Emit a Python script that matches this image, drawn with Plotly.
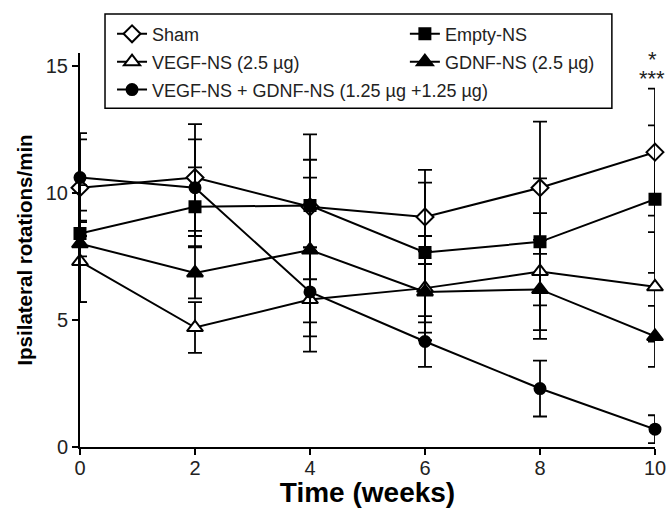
import plotly.graph_objects as go

weeks = [0, 2, 4, 6, 8, 10]

sham = [10.2, 10.6, 9.45, 9.05, 10.2, 11.6]
sham_err = [1.9, 2.1, 2.85, 1.85, 2.6, 2.5]

empty = [8.4, 9.45, 9.5, 7.65, 8.07, 9.75]
empty_err = [0.9, 1.55, 1.8, 2.75, 2.5, 2.9]

vegf = [7.3, 4.7, 5.8, 6.25, 6.9, 6.3]
vegf_err = [1.6, 1.0, 2.05, 2.05, 2.3, 2.15]

gdnf = [8.0, 6.85, 7.75, 6.1, 6.2, 4.35]
gdnf_err = [2.3, 1.0, 2.85, 1.6, 1.95, 1.2]

combo = [10.6, 10.2, 6.1, 4.15, 2.3, 0.7]
combo_err = [1.75, 1.9, 1.75, 1.0, 1.1, 0.55]

series = [
    ("Sham", sham, sham_err, "diamond", "white", 13, "legend"),
    ("Empty-NS", empty, empty_err, "square", "black", 11, "legend2"),
    ("VEGF-NS (2.5 µg)", vegf, vegf_err, "triangle-up", "white", 14, "legend"),
    ("GDNF-NS (2.5 µg)", gdnf, gdnf_err, "triangle-up", "black", 14, "legend2"),
    ("VEGF-NS + GDNF-NS (1.25 µg +1.25 µg)", combo, combo_err, "circle", "black", 11, "legend"),
]

sig_labels = ["*", "***"]
sig_y = [15.25, 14.5]

FONT = "Arial, Liberation Sans, sans-serif"

fig = go.Figure()
for i, (name, y, e, sym, fill, size, leg) in enumerate(series):
    fig.add_trace(go.Scatter(
        x=weeks, y=y, name=name, mode="lines+markers",
        legend=leg, legendgroup="g%d" % i,
        line=dict(color="black", width=2),
        marker=dict(symbol=sym, color=fill, size=size,
                    line=dict(color="black", width=2)),
        error_y=dict(type="data", array=e, visible=True,
                     color="black", thickness=1.8, width=7),
        cliponaxis=False,
    ))

for lab, yy in zip(sig_labels, sig_y):
    fig.add_annotation(x=10, y=yy, xref="x", yref="y", text=lab,
                       showarrow=False, xshift=-3,
                       font=dict(family=FONT, size=22, color="#222"))

# legend frame
fig.add_shape(type="rect", xref="paper", yref="paper",
              x0=0.0435, x1=0.925, y0=0.860, y1=1.099,
              line=dict(color="black", width=1.5), fillcolor="white",
              layer="above")

legend_common = dict(
    orientation="v", xanchor="left", yanchor="top",
    bgcolor="rgba(0,0,0,0)", borderwidth=0,
    font=dict(family=FONT, size=18, color="#222"),
    tracegroupgap=1.5, itemwidth=30,
)

fig.update_layout(
    width=670, height=508,
    margin=dict(l=80, r=15, t=53, b=61, autoexpand=False),
    paper_bgcolor="white", plot_bgcolor="white",
    font=dict(family=FONT, color="#222"),
    showlegend=True,
    legend=dict(x=0.0557, y=1.095, **legend_common),
    legend2=dict(x=0.565, y=1.095, **legend_common),
    xaxis=dict(
        range=[0, 10], tickvals=weeks, ticktext=[str(w) for w in weeks],
        showline=True, linecolor="black", linewidth=2,
        ticks="outside", ticklen=6, tickwidth=2, tickcolor="black",
        showgrid=False, zeroline=False, automargin=False,
        ticklabelstandoff=-4,
        tickfont=dict(family=FONT, size=20, color="#222"),
        title=dict(text="<b>Time (weeks)</b>", standoff=9,
                   font=dict(family=FONT, size=28, color="black")),
    ),
    yaxis=dict(
        range=[0, 15.5], tickvals=[0, 5, 10, 15],
        showline=True, linecolor="black", linewidth=2,
        ticks="outside", ticklen=6, tickwidth=2, tickcolor="black",
        showgrid=False, zeroline=False, automargin=False,
        tickfont=dict(family=FONT, size=20, color="#222"),
        title=dict(text="<b>Ipsilateral rotations/min</b>", standoff=8,
                   font=dict(family=FONT, size=20.5, color="black")),
    ),
)

fig.write_html(
    "out.html",
    config={"displayModeBar": False},
    post_script="document.body.style.margin='0';document.body.style.overflow='hidden';",
)
